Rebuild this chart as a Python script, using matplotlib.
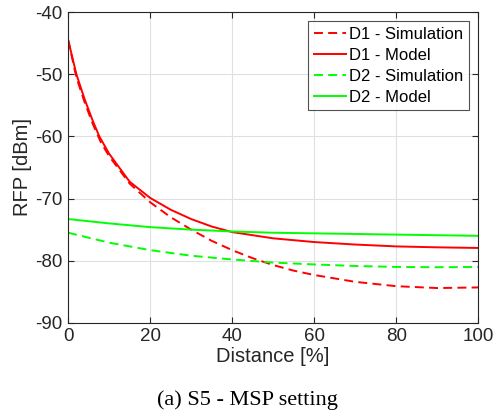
import matplotlib
matplotlib.use("Agg")
import matplotlib.pyplot as plt

plt.rcParams['font.family'] = ['Liberation Sans', 'DejaVu Sans']
plt.rcParams['axes.unicode_minus'] = False

# Data
x_d1_model = [0, 2, 4, 6, 7.6, 10, 15, 20, 25, 30, 35, 40, 50, 60, 70, 80, 90, 100]
y_d1_model = [-44.5, -50, -54, -57.5, -60, -62.8, -67.3, -69.9, -71.8, -73.3, -74.5, -75.4,
              -76.4, -77.0, -77.4, -77.7, -77.85, -77.95]

x_d1_sim = [0, 2, 4, 6, 8, 10, 15, 20, 25, 30, 35, 40, 45, 50, 55, 60, 70, 80, 90, 100]
y_d1_sim = [-44.5, -50.5, -54.5, -58, -61, -63.2, -67.6, -70.6, -73, -75.0, -76.8, -78.3,
            -79.6, -80.7, -81.6, -82.3, -83.4, -84.1, -84.4, -84.3]

x_d2_model = [0, 10, 20, 30, 40, 50, 60, 70, 80, 90, 100]
y_d2_model = [-73.3, -74.0, -74.6, -75.0, -75.3, -75.5, -75.6, -75.7, -75.8, -75.9, -76.0]

x_d2_sim = [0, 10, 20, 30, 40, 50, 60, 70, 80, 90, 100]
y_d2_sim = [-75.5, -77.1, -78.3, -79.2, -79.8, -80.3, -80.6, -80.85, -81.0, -81.05, -81.0]

x_ticks = [0, 20, 40, 60, 80, 100]
y_ticks = [-90, -80, -70, -60, -50, -40]

fig = plt.figure(figsize=(4.94, 4.15), dpi=100)
ax = fig.add_axes([0.138, 0.222, 0.830, 0.749])

dash = (0, (4.6, 2.7))
ax.plot(x_d1_sim, y_d1_sim, color='#ff0000', lw=1.4, linestyle=dash, label='D1 - Simulation')
ax.plot(x_d1_model, y_d1_model, color='#ff0000', lw=1.4, label='D1 - Model')
ax.plot(x_d2_sim, y_d2_sim, color='#00ff00', lw=1.4, linestyle=dash, label='D2 - Simulation')
ax.plot(x_d2_model, y_d2_model, color='#00ff00', lw=1.4, label='D2 - Model')

ax.set_xlim(0, 100)
ax.set_ylim(-90, -40)
ax.set_xticks(x_ticks)
ax.set_yticks(y_ticks)
ax.grid(True, color='#e0e0e0', lw=0.8)
ax.set_axisbelow(True)
ax.tick_params(direction='in', top=True, right=True, labelsize=13.5, colors='#262626',
               length=4, pad=4)
for s in ax.spines.values():
    s.set_color('#262626')
    s.set_linewidth(0.8)

ax.set_xlabel('Distance [%]', fontsize=14.5, color='#262626', labelpad=1)
ax.set_ylabel('RFP [dBm]', fontsize=14.5, color='#262626', labelpad=2)

leg = ax.legend(loc='upper right', fontsize=12, frameon=True, fancybox=False,
                edgecolor='#262626', handlelength=1.9, handletextpad=0.2,
                borderpad=0.35, labelspacing=0.35, borderaxespad=0.55)
leg.get_frame().set_linewidth(0.8)

fig.text(0.5, 0.036, '(a) S5 - MSP setting', ha='center', va='center',
         fontsize=16, family=['Liberation Serif', 'DejaVu Serif'])

fig.savefig('out.png', dpi=100)
